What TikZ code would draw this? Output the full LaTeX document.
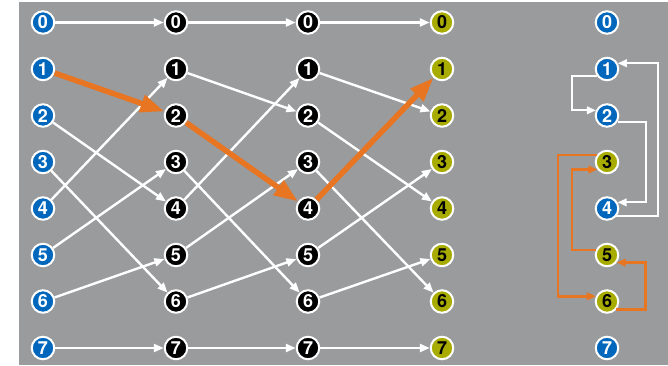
\documentclass[tikz,border=0pt]{standalone}
\usepackage{fontspec}
\setmainfont{TeX Gyre Heros}
\usepackage{xcolor}
\usetikzlibrary{arrows.meta}

\definecolor{panelgray}{RGB}{154,155,157}
\definecolor{bitblue}{RGB}{0,103,189}
\definecolor{bitolive}{RGB}{168,172,0}
\definecolor{pathorange}{RGB}{232,117,34}

\begin{document}
\begin{tikzpicture}[x=1pt, y=-1pt,
  every node/.style={font=\fontsize{18}{18}\selectfont\bfseries},
  dot/.style={circle, draw=white, line width=2pt, minimum size=22.5pt, inner sep=0pt},
  inbit/.style={dot, fill=bitblue, text=white},
  midbit/.style={dot, fill=black, text=white},
  outbit/.style={dot, fill=bitolive, text=black},
  wire/.style={draw=white, line width=2.4pt, -{Triangle[length=10pt,width=8pt]}},
  hot/.style={draw=pathorange, line width=5.5pt, -{Triangle[length=24pt,width=17pt]}},
  cyc/.style={draw=white, line width=2pt, -{Triangle[length=9pt,width=7.5pt]}},
  hotcyc/.style={draw=pathorange, line width=2.5pt, -{Triangle[length=9pt,width=7.5pt]}}]

\useasboundingbox (0,0) rectangle (668,365);
\fill[panelgray] (19,2) rectangle (668,365);

% the four columns of the network
\foreach \i in {0,...,7} {
  \node[inbit]  (a\i) at (43, {22.5+46.5*\i}) {\i};
  \node[midbit] (b\i) at (176, {22.5+46.5*\i}) {\i};
  \node[midbit] (c\i) at (308, {22.5+46.5*\i}) {\i};
  \node[outbit] (d\i) at (442, {22.5+46.5*\i}) {\i};
}

% cycle column
\foreach \i in {0,1,2,4,7}
  \node[inbit] (r\i) at (607, {22.5+46.5*\i}) {\i};
\foreach \i in {3,5,6}
  \node[outbit] (r\i) at (607, {22.5+46.5*\i}) {\i};

% shuffle stages
\foreach \s/\t in {0/0,2/4,3/6,4/1,5/3,6/5,7/7}
  \draw[wire] (a\s) -- (b\t);
\foreach \s/\t in {0/0,1/2,3/6,4/1,5/3,6/5,7/7}
  \draw[wire] (b\s) -- (c\t);
\foreach \s/\t in {0/0,1/2,2/4,3/6,5/3,6/5,7/7}
  \draw[wire] (c\s) -- (d\t);

% highlighted path
\draw[hot] (a1) -- (b2);
\draw[hot] (b2) -- (c4);
\draw[hot] (c4) -- (d1);

% cycles
\draw[cyc] (r1.215) -- ++(-25,0) |- (r2.155);
\draw[cyc] (r2.-30) -- ++(28,0) |- (r4.30);
\draw[cyc] (r4.-40) -- ++(42,0) |- (r1.28);
\draw[hotcyc] (r3.145) -- ++(-39,0) |- (r6.155);
\draw[hotcyc] (r6.-40) -- ++(29,0) |- (r5.-38);
\draw[hotcyc] (r5.155) -- ++(-24,0) |- (r3.218);
\end{tikzpicture}
\end{document}
